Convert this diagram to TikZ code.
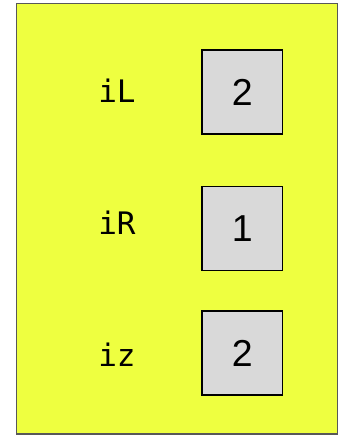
\documentclass[tikz,border=0pt]{standalone}
\usepackage{fontspec}
\newfontfamily\labfont{DejaVu Sans Mono}
\newfontfamily\digfont{Liberation Sans}
\definecolor{panelyellow}{RGB}{238,255,64}
\definecolor{panelborder}{RGB}{88,88,88}
\definecolor{cellgray}{RGB}{217,217,217}
\begin{document}
\begin{tikzpicture}[x=1pt,y=-1pt,
  cell/.style={draw=black,line width=1.5pt,fill=cellgray,minimum width=80.5pt,minimum height=84pt,inner sep=0pt,font=\digfont\fontsize{37.5}{37.5}\selectfont},
  lab/.style={anchor=base,inner sep=0pt,font=\labfont\fontsize{31}{31}\selectfont}]
\useasboundingbox (0,0) rectangle (341,436);
\node[draw=panelborder,line width=1.6pt,fill=panelyellow,minimum width=321pt,minimum height=430.5pt,inner sep=0pt] (panel) at (177,218.75) {};
\node[cell] (bL) at (242.3,92) {2};
\node[cell] (bR) at (242.3,228.5) {1};
\node[cell] (bz) at (242.3,353) {2};
\node[lab] (lL) at (117,102) {iL};
\node[lab] (lR) at (117,234) {iR};
\node[lab] (lz) at (117,366) {iz};
\end{tikzpicture}
\end{document}
